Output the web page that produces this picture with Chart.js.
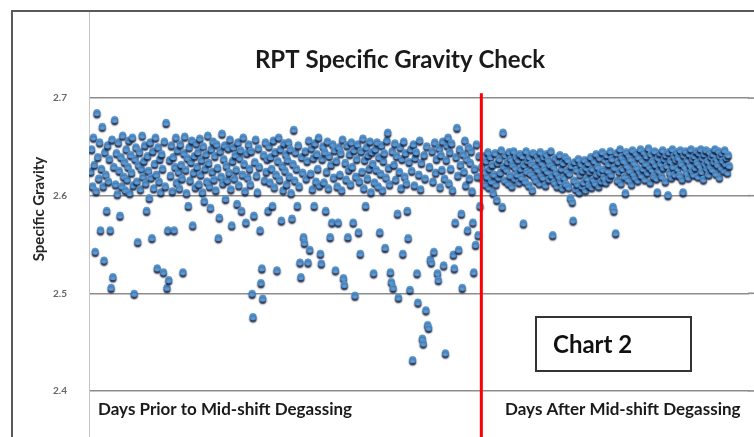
<!DOCTYPE html>
<html>
<head>
<meta charset="utf-8">
<script src="https://cdn.jsdelivr.net/npm/chart.js@4.4.1/dist/chart.umd.min.js"></script>
<style>
  html, body { margin: 0; padding: 0; background: #ffffff; overflow: hidden; }
  #wrap { position: relative; width: 754px; height: 437px; }
</style>
</head>
<body>
<div id="wrap"><canvas id="c"></canvas></div>
<script>
// ---- Data ----
const chartTitle = "RPT Specific Gravity Check";
const yAxisTitle = "Specific Gravity";
const priorLabel = "Days Prior to Mid-shift Degassing";
const afterLabel = "Days After Mid-shift Degassing";
const boxLabel = "Chart 2";
const yTickValues = [2.4, 2.5, 2.6, 2.7];
const yMin = 2.3528, yMax = 2.7892;
const xMin = -2, xMax = 748;
const priorStart = 0;      // sample number of first reading before degassing
const afterStart = 441;    // sample number of first reading after degassing
const dividerX = 440.5;    // mid-shift degassing marker
const dividerTop = 2.705;

const priorSG = [
2.625,2.648,2.61,2.66,2.632,2.543,2.605,2.685,2.64,2.618,2.655,2.565,2.628,2.671,2.61,2.534,2.645,2.622,2.585,2.652,
2.615,2.638,2.565,2.506,2.658,2.517,2.63,2.678,2.612,2.644,2.602,2.655,2.626,2.58,2.64,2.61,2.662,2.62,2.635,2.606,
2.648,2.617,2.63,2.657,2.603,2.642,2.624,2.66,2.611,2.50,2.638,2.65,2.615,2.553,2.632,2.645,2.607,2.628,2.662,2.62,
2.636,2.652,2.613,2.585,2.641,2.626,2.598,2.655,2.619,2.557,2.646,2.608,2.633,2.66,2.622,2.526,2.65,2.615,2.638,2.604,
2.643,2.628,2.522,2.656,2.61,2.675,2.506,2.565,2.514,2.637,2.621,2.652,2.605,2.64,2.565,2.63,2.66,2.614,2.647,2.625,
2.608,2.653,2.632,2.618,2.522,2.644,2.661,2.627,2.603,2.639,2.59,2.65,2.616,2.635,2.657,2.57,2.624,2.641,2.609,2.654,
2.63,2.645,2.612,2.659,2.622,2.637,2.604,2.651,2.595,2.628,2.643,2.615,2.662,2.634,2.61,2.588,2.648,2.625,2.656,2.617,
2.641,2.606,2.653,2.629,2.557,2.578,2.646,2.62,2.664,2.613,2.638,2.652,2.597,2.631,2.616,2.649,2.624,2.658,2.607,2.57,
2.636,2.65,2.618,2.642,2.627,2.592,2.655,2.611,2.639,2.647,2.585,2.622,2.66,2.633,2.605,2.573,2.644,2.619,2.653,2.628,
2.612,2.646,2.50,2.476,2.58,2.635,2.658,2.621,2.604,2.649,2.63,2.565,2.511,2.526,2.495,2.642,2.616,2.655,2.625,2.638,
2.585,2.651,2.614,2.64,2.628,2.59,2.657,2.609,2.645,2.622,2.524,2.636,2.66,2.617,2.648,2.575,2.631,2.606,2.654,2.626,
2.643,2.612,2.637,2.655,2.62,2.648,2.603,2.577,2.633,2.668,2.616,2.645,2.628,2.59,2.652,2.61,2.532,2.517,2.64,2.624,
2.558,2.552,2.646,2.618,2.636,2.532,2.657,2.545,2.623,2.649,2.607,2.639,2.59,2.654,2.615,2.643,2.628,2.66,2.611,2.541,
2.531,2.638,2.651,2.614,2.645,2.585,2.625,2.656,2.608,2.641,2.558,2.632,2.573,2.653,2.619,2.647,2.524,2.636,2.61,2.573,
2.65,2.622,2.644,2.606,2.658,2.516,2.509,2.634,2.617,2.652,2.558,2.627,2.643,2.612,2.655,2.63,2.573,2.647,2.498,2.62,
2.638,2.653,2.563,2.615,2.541,2.646,2.625,2.659,2.608,2.637,2.59,2.65,2.618,2.642,2.628,2.656,2.604,2.645,2.633,2.521,
2.614,2.648,2.627,2.655,2.61,2.64,2.563,2.623,2.652,2.606,2.636,2.644,2.547,2.619,2.657,2.665,2.629,2.612,2.522,2.512,
2.646,2.506,2.632,2.654,2.617,2.641,2.582,2.496,2.625,2.65,2.608,2.638,2.541,2.656,2.62,2.644,2.613,2.585,2.557,2.635,
2.504,2.648,2.626,2.432,2.653,2.611,2.639,2.645,2.521,2.491,2.622,2.657,2.607,2.634,2.454,2.449,2.642,2.618,2.483,2.651,
2.468,2.465,2.63,2.535,2.532,2.646,2.615,2.543,2.655,2.624,2.638,2.521,2.514,2.649,2.609,2.642,2.627,2.656,2.529,2.618,
2.439,2.637,2.652,2.66,2.613,2.645,2.628,2.654,2.606,2.54,2.526,2.573,2.64,2.67,2.621,2.545,2.648,2.632,2.582,2.506,
2.643,2.625,2.657,2.611,2.638,2.565,2.65,2.618,2.634,2.646,2.605,2.573,2.522,2.628,2.55,2.653,2.62,2.56,2.641,2.59
];

const afterSG = [
2.63,2.618,2.641,2.625,2.612,2.636,2.62,2.645,2.609,2.628,2.64,2.615,2.632,2.603,2.622,2.644,2.612,2.596,2.634,2.619,
2.638,2.624,2.647,2.589,2.665,2.63,2.616,2.642,2.627,2.635,2.613,2.645,2.621,2.638,2.61,2.632,2.646,2.618,2.629,2.64,
2.622,2.637,2.614,2.643,2.628,2.619,2.641,2.572,2.632,2.615,2.646,2.625,2.636,2.611,2.64,2.623,2.633,2.606,2.644,2.62,
2.631,2.616,2.642,2.627,2.638,2.613,2.645,2.622,2.634,2.619,2.64,2.628,2.611,2.643,2.625,2.637,2.617,2.632,2.646,2.621,
2.56,2.63,2.614,2.639,2.624,2.61,2.636,2.62,2.642,2.615,2.628,2.608,2.634,2.619,2.64,2.612,2.626,2.637,2.609,2.623,
2.598,2.631,2.594,2.575,2.616,2.635,2.607,2.627,2.612,2.638,2.604,2.622,2.633,2.61,2.626,2.614,2.637,2.606,2.629,2.618,
2.634,2.611,2.625,2.64,2.609,2.628,2.617,2.636,2.613,2.643,2.622,2.63,2.61,2.639,2.624,2.615,2.645,2.627,2.619,2.637,
2.614,2.642,2.626,2.633,2.618,2.646,2.622,2.638,2.589,2.585,2.629,2.562,2.644,2.616,2.635,2.625,2.648,2.613,2.64,2.628,
2.636,2.62,2.603,2.645,2.631,2.617,2.642,2.626,2.638,2.612,2.647,2.623,2.634,2.619,2.644,2.629,2.616,2.64,2.625,2.648,
2.621,2.637,2.628,2.645,2.617,2.633,2.641,2.624,2.649,2.63,2.614,2.643,2.627,2.636,2.62,2.646,2.632,2.618,2.604,2.639,
2.626,2.644,2.633,2.62,2.647,2.629,2.638,2.615,2.642,2.631,2.601,2.645,2.624,2.636,2.619,2.648,2.63,2.641,2.622,2.637,
2.645,2.628,2.639,2.621,2.647,2.633,2.617,2.604,2.642,2.63,2.646,2.624,2.637,2.619,2.643,2.632,2.648,2.626,2.638,2.622,
2.641,2.629,2.646,2.634,2.62,2.644,2.631,2.648,2.625,2.639,2.617,2.643,2.633,2.647,2.628,2.636,2.622,2.645,2.63,2.64,
2.627,2.643,2.635,2.648,2.623,2.638,2.632,2.646,2.619,2.641,2.629,2.644,2.636,2.626,2.647,2.633,2.639,2.624,2.642,2.631
];

// ---- Build points ----
const points = [];
priorSG.forEach((v, i) => points.push({ x: priorStart + i, y: v }));
afterSG.forEach((v, i) => points.push({ x: afterStart + i, y: v }));

const FONT = "Lato, 'Open Sans', 'Liberation Sans', sans-serif";
const GRID = '#8c8c8c';

const decorPlugin = {
  id: 'decor',
  beforeDraw(chart) {
    const ctx = chart.ctx;
    ctx.save();
    ctx.fillStyle = '#ffffff';
    ctx.fillRect(0, 0, chart.width, chart.height);
    ctx.restore();
  },
  beforeDatasetDraw(chart, args) {
    if (args.meta.type === 'scatter') {
      const ctx = chart.ctx;
      ctx.save();
      ctx.shadowColor = 'rgba(15,25,55,0.9)';
      ctx.shadowOffsetX = 0;
      ctx.shadowOffsetY = 2.2;
      ctx.shadowBlur = 1.5;
    }
  },
  afterDatasetDraw(chart, args) {
    if (args.meta.type === 'scatter') chart.ctx.restore();
  },
  afterDraw(chart) {
    const ctx = chart.ctx;
    const ys = chart.scales.y;
    ctx.save();
    // keep the right edge of the plot clean (plot continues past the crop)
    ctx.fillStyle = '#ffffff';
    ctx.fillRect(chart.width - 5, 12, 5, chart.height - 12);
    ctx.strokeStyle = GRID;
    ctx.lineWidth = 1.6;
    yTickValues.forEach(v => {
      const py = ys.getPixelForValue(v);
      ctx.beginPath();
      ctx.moveTo(chart.width - 6, py);
      ctx.lineTo(chart.width, py);
      ctx.stroke();
    });
    // outer chart border (left and top edges visible in the crop)
    ctx.strokeStyle = '#5a5a5a';
    ctx.lineWidth = 2;
    ctx.beginPath();
    ctx.moveTo(12, chart.height);
    ctx.lineTo(12, 11);
    ctx.lineTo(chart.width, 11);
    ctx.stroke();
    // title
    ctx.fillStyle = '#1a1a1a';
    ctx.textBaseline = 'middle';
    ctx.textAlign = 'center';
    ctx.font = "bold 24px " + FONT;
    ctx.fillText(chartTitle, 400, 60);
    // y axis title
    ctx.save();
    ctx.translate(39, 209);
    ctx.rotate(-Math.PI / 2);
    ctx.font = "bold 15px " + FONT;
    ctx.fillStyle = '#262626';
    ctx.fillText(yAxisTitle, 0, 0);
    ctx.restore();
    // region labels
    ctx.textAlign = 'left';
    ctx.font = "bold 17px " + FONT;
    ctx.fillStyle = '#1a1a1a';
    ctx.fillText(priorLabel, 98, 410);
    ctx.fillText(afterLabel, 505, 410);
    // Chart 2 box
    ctx.fillStyle = '#ffffff';
    ctx.fillRect(536, 317, 155, 54);
    ctx.strokeStyle = '#333333';
    ctx.lineWidth = 2;
    ctx.strokeRect(536, 317, 155, 54);
    ctx.fillStyle = '#111111';
    ctx.font = "bold 24px " + FONT;
    ctx.fillText(boxLabel, 553, 345);
    ctx.restore();
  }
};

new Chart(document.getElementById('c'), {
  data: {
    datasets: [
      {
        type: 'line',
        label: 'Degassing',
        data: [{ x: dividerX, y: dividerTop }, { x: dividerX, y: yMin }],
        borderColor: '#ff0000',
        borderWidth: 3,
        pointRadius: 0,
        fill: false
      },
      {
        type: 'scatter',
        label: 'Specific Gravity',
        data: points,
        pointRadius: 3.4,
        pointBackgroundColor: '#5b9bd5',
        pointBorderColor: '#4f8cc9',
        pointBorderWidth: 0.5
      }
    ]
  },
  options: {
    responsive: true,
    maintainAspectRatio: false,
    devicePixelRatio: 1,
    animation: false,
    layout: { autoPadding: false, padding: { top: 11, left: 0, right: 0, bottom: 0 } },
    plugins: { legend: { display: false }, tooltip: { enabled: false }, title: { display: false } },
    scales: {
      x: { type: 'linear', min: xMin, max: xMax, display: false },
      y: {
        type: 'linear', min: yMin, max: yMax,
        afterFit(scale) { scale.width = 89; scale.paddingTop = 0; scale.paddingBottom = 0; },
        afterBuildTicks(scale) { scale.ticks = yTickValues.map(v => ({ value: v })); },
        ticks: {
          padding: 22,
          color: '#666666',
          font: { family: FONT, size: 10, weight: 'bold' },
          callback: v => v.toFixed(1)
        },
        grid: { color: GRID, lineWidth: 1.6, drawTicks: false },
        border: { display: true, color: '#c4c4c4', width: 1 }
      }
    }
  },
  plugins: [decorPlugin]
});
</script>
</body>
</html>
